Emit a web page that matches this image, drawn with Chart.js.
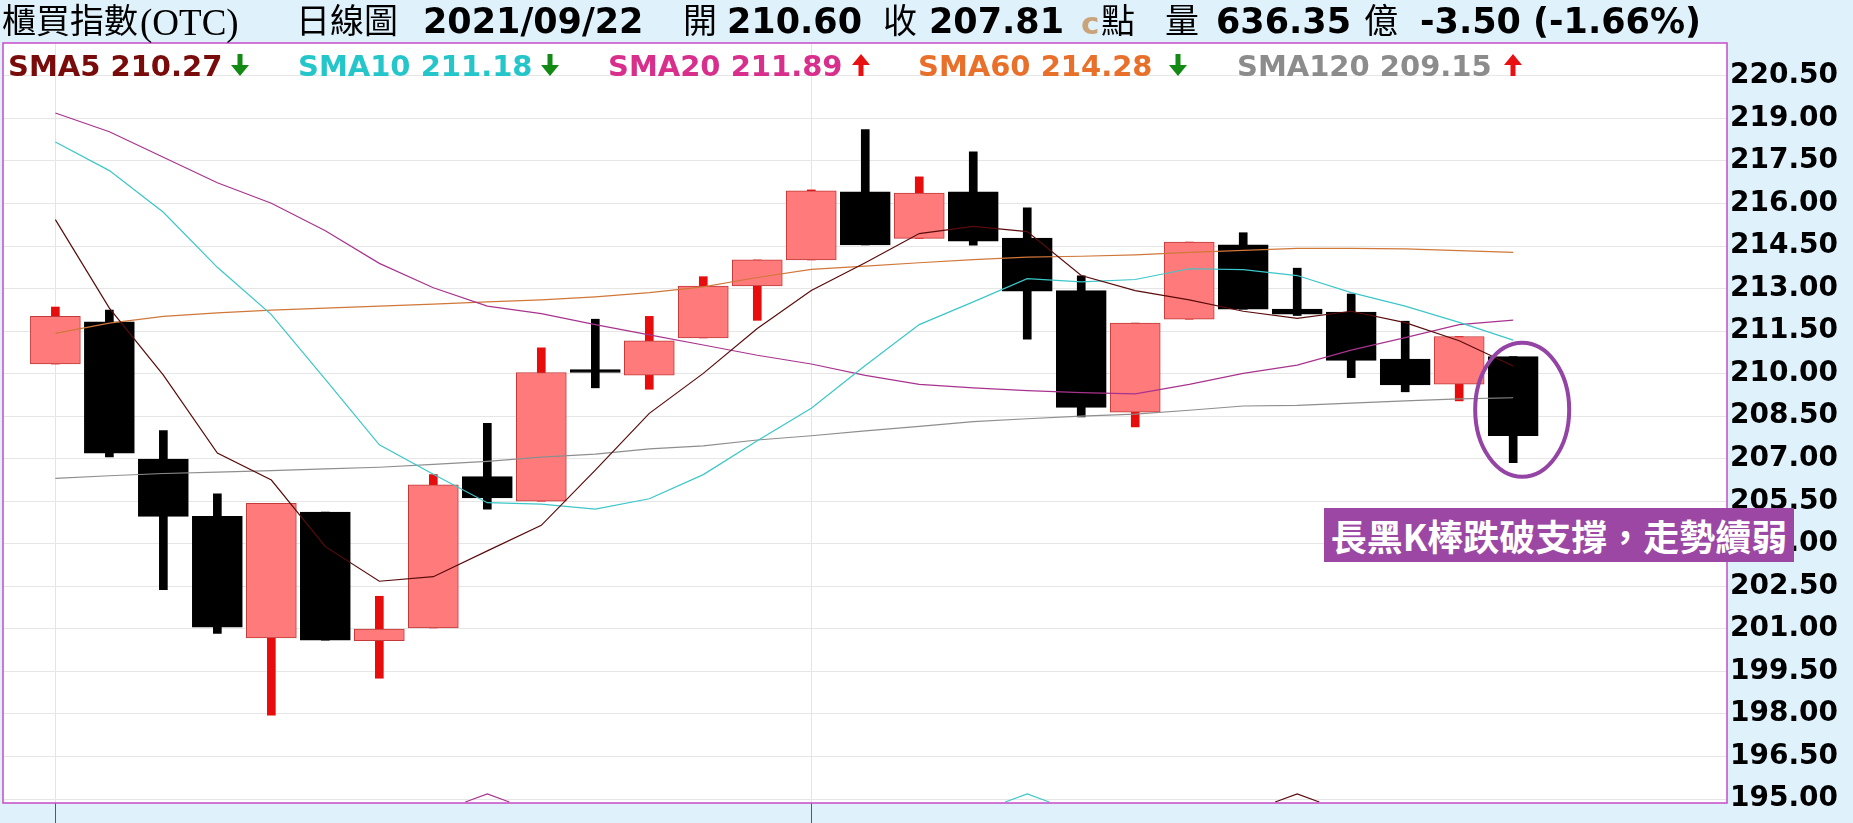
<!DOCTYPE html>
<html>
<head>
<meta charset="utf-8">
<script src="https://cdn.jsdelivr.net/npm/chart.js@4.4.1/dist/chart.umd.min.js"></script>
<style>
html,body{margin:0;padding:0;background:#dff1fb;width:1853px;height:823px;overflow:hidden;}
#wrap{position:relative;width:1853px;height:823px;}
#c{position:absolute;left:0;top:0;}
.t{position:absolute;white-space:nowrap;line-height:1;margin:0;padding:0;}
.num{font-family:"DejaVu Sans";font-weight:bold;font-size:35px;color:#000;top:4px;}
.cjk{font-family:"Noto Sans CJK TC";font-size:34px;color:#000;top:2px;}
.ser{font-family:"Liberation Serif";font-size:37px;color:#000;top:4px;}
.sm{font-family:"DejaVu Sans";font-weight:bold;font-size:31px;top:8px;}
.leg{font-family:"DejaVu Sans";font-weight:bold;font-size:29px;top:52px;}
.arr{position:absolute;top:54px;}
#note{position:absolute;left:1324px;top:508px;width:470px;height:54px;background:#9b47a3;color:#fff;
 font-family:"Noto Sans CJK TC";font-weight:bold;font-size:36px;line-height:54px;text-align:center;white-space:nowrap;}
</style>
</head>
<body>
<div id="wrap">
<canvas id="c" width="1853" height="823"></canvas>
<div id="hdr"></div>
<div id="note"></div>
</div>
<script>
// ---- data ----
const title = "櫃買指數";
const titleCode = "(OTC)";
const chartType = "日線圖";
const lastDate = "2021/09/22";
const volume = "636.35";
const noteText = "長黑K棒跌破支撐，走勢續弱";

const dates = ["08/12","08/13","08/16","08/17","08/18","08/19","08/20","08/23","08/24","08/25","08/26","08/27","08/30","08/31",
               "09/01","09/02","09/03","09/06","09/07","09/08","09/09","09/10","09/13","09/14","09/15","09/16","09/17","09/22"];
const opens  = [210.34,211.83,206.99,204.97,200.68,205.12,200.58,201.03,206.37,205.50,210.14,209.95,211.26,213.09,
                214.01,216.41,214.77,216.41,214.78,212.93,208.64,211.92,214.54,212.28,212.17,210.51,209.63,210.60];
const highs  = [212.35,212.24,207.99,205.76,205.43,205.12,202.15,206.44,208.25,210.91,211.92,212.02,213.42,214.01,
                216.48,218.61,216.94,217.82,215.85,213.45,211.78,214.64,214.97,213.72,212.81,211.85,211.31,210.60];
const lows   = [210.34,207.06,202.38,200.84,197.96,200.60,199.26,201.03,205.22,205.50,209.50,209.45,211.26,211.88,
                214.01,214.54,214.77,214.53,211.22,208.47,208.12,211.92,212.27,212.05,209.86,209.36,209.04,206.86];
const closes = [212.02,207.20,204.97,201.06,205.43,200.60,200.99,206.08,205.62,210.04,210.04,211.16,213.09,214.01,
                216.45,214.54,216.37,214.67,212.91,208.81,211.78,214.64,212.27,212.10,210.47,209.60,211.31,207.81];

const sma5   = [215.43,212.31,209.95,207.20,206.25,203.90,202.68,202.84,203.75,204.65,206.60,208.60,210.01,211.59,
                212.93,213.91,214.94,215.19,215.01,213.46,212.93,212.60,212.20,211.95,212.20,211.80,211.16,210.27];
const sma10  = [218.17,217.16,215.69,213.75,212.08,209.80,207.49,206.45,205.45,205.40,205.22,205.59,206.44,207.63,
                208.78,210.29,211.73,212.53,213.35,213.24,213.32,213.70,213.67,213.46,212.86,212.38,211.81,211.18];
const sma20  = [219.19,218.53,217.63,216.73,216.01,215.04,213.89,213.03,212.38,212.12,211.73,211.37,211.01,210.65,
                210.34,209.94,209.62,209.50,209.40,209.33,209.29,209.62,210.01,210.30,210.83,211.27,211.73,211.89];
const sma60  = [211.42,211.78,212.02,212.14,212.24,212.31,212.38,212.45,212.53,212.60,212.71,212.86,213.06,213.39,
                213.68,213.79,213.91,214.02,214.11,214.14,214.19,214.28,214.35,214.42,214.42,214.40,214.34,214.28];
const sma120 = [206.31,206.40,206.48,206.53,206.58,206.64,206.70,206.80,206.91,207.06,207.16,207.35,207.45,207.66,
                207.81,207.98,208.14,208.31,208.41,208.50,208.57,208.71,208.86,208.88,208.96,209.04,209.11,209.15];

const smaNames = ["SMA5","SMA10","SMA20","SMA60","SMA120"];
const yTicks = [195.00,196.50,198.00,199.50,201.00,202.50,204.00,205.50,207.00,208.50,210.00,211.50,
                213.00,214.50,216.00,217.50,219.00,220.50];
const gridIdx = [0, 14];          // vertical separators
const markerIdx = [8, 18, 23];    // small carets at the bottom
const markerSeries = [2, 1, 0];   // which SMA colour each caret uses

// ---- styles ----
const smaSeries = [sma5, sma10, sma20, sma60, sma120];
const lineColors  = ["#5a0b0b","#3cc6c9","#a8338e","#d0773a","#8e8e8e"];
const labelColors = ["#7a0b0b","#25c6ca","#d82f8c","#e8702a","#8c8c8c"];
const legendLeft = [8, 298, 608, 918, 1237];
const arrowLeft  = [230, 540, 851, 1168, 1503];
const UP_BODY = "#ff7b7b", UP_EDGE = "#c23a3a", UP_WICK = "#e80d0d", DN = "#000000";

// ---- header / legend as DOM text ----
const hdr = document.getElementById('hdr');
function addText(cls, left, text, color){
  const s = document.createElement('span');
  s.className = 't ' + cls;
  s.style.left = left + 'px';
  if (color) s.style.color = color;
  s.textContent = text;
  hdr.appendChild(s);
  return s;
}
function addArrow(left, up){
  const col = up ? "#e81010" : "#138a13";
  const path = up ? "M10 0 L19 11 L12.5 11 L12.5 22 L7.5 22 L7.5 11 L1 11 Z"
                  : "M10 22 L19 11 L12.5 11 L12.5 0 L7.5 0 L7.5 11 L1 11 Z";
  const d = document.createElement('div');
  d.className = 'arr';
  d.style.left = left + 'px';
  d.innerHTML = '<svg width="20" height="22" viewBox="0 0 20 22"><path d="' + path + '" fill="' + col + '"/></svg>';
  hdr.appendChild(d);
}
const n = closes.length;
const lastClose = closes[n-1], prevClose = closes[n-2];
const chg = lastClose - prevClose;
const pct = chg / prevClose * 100;
addText('cjk', 2, title);
addText('ser', 140, titleCode);
addText('cjk', 296, chartType);
addText('num', 423, lastDate);
addText('cjk', 683, "開");
addText('num', 727, opens[n-1].toFixed(2));
addText('cjk', 883, "收");
addText('num', 929, lastClose.toFixed(2));
addText('sm', 1081, "c", "#c9a47a");
addText('cjk', 1101, "點");
addText('cjk', 1165, "量");
addText('num', 1216, volume);
addText('cjk', 1364, "億");
addText('num', 1420, chg.toFixed(2) + " (" + pct.toFixed(2) + "%)");

smaSeries.forEach((arr, k) => {
  const last = arr[arr.length-1], prev = arr[arr.length-2];
  addText('leg', legendLeft[k], smaNames[k] + " " + last.toFixed(2), labelColors[k]);
  addArrow(arrowLeft[k], last >= prev);
});
document.getElementById('note').textContent = noteText;

// ---- chart ----
const isUp = closes.map((c,i) => c >= opens[i]);
const lineSets = smaSeries.map((arr,k) => ({
  type: 'line',
  label: smaNames[k],
  data: arr.map((v,i) => ({x: i, y: v})),
  borderColor: lineColors[k],
  borderWidth: 1.2,
  pointRadius: 0,
  tension: 0,
  order: k
}));
const bodySet = {
  type: 'bar',
  label: 'body',
  data: opens.map((o,i) => ({x: i, y: [o, closes[i]]})),
  backgroundColor: isUp.map(u => u ? UP_BODY : DN),
  borderColor: isUp.map(u => u ? UP_EDGE : DN),
  borderWidth: 1,
  borderSkipped: false,
  barThickness: 50,
  grouped: false,
  order: 10
};
const wickSet = {
  type: 'bar',
  label: 'wick',
  data: lows.map((l,i) => ({x: i, y: [l, highs[i]]})),
  backgroundColor: isUp.map(u => u ? UP_WICK : DN),
  borderWidth: 0,
  barThickness: 8,
  grouped: false,
  order: 11
};

const decor = {
  id: 'decor',
  beforeDraw(chart){
    const {ctx, chartArea: a} = chart;
    ctx.save();
    ctx.fillStyle = '#ffffff';
    ctx.fillRect(a.left, a.top, a.right - a.left, a.bottom - a.top);
    ctx.restore();
  },
  afterDatasetsDraw(chart){
    const {ctx, chartArea: a, scales: {x, y}} = chart;
    ctx.save();
    markerIdx.forEach((idx, k) => {
      const px = x.getPixelForValue(idx);
      const by = a.bottom - 1;
      ctx.strokeStyle = lineColors[markerSeries[k]];
      ctx.lineWidth = 1.3;
      ctx.beginPath();
      ctx.moveTo(px - 22, by);
      ctx.lineTo(px, by - 8);
      ctx.lineTo(px + 22, by);
      ctx.stroke();
    });
    const li = n - 1;
    const cx = x.getPixelForValue(li) + 9;
    const cy = y.getPixelForValue((highs[li] + lows[li]) / 2);
    ctx.strokeStyle = '#9444a4';
    ctx.lineWidth = 4;
    ctx.beginPath();
    ctx.ellipse(cx, cy, 47, 67, 0, 0, Math.PI * 2);
    ctx.stroke();
    ctx.restore();
  },
  afterDraw(chart){
    const {ctx, chartArea: a} = chart;
    ctx.save();
    ctx.strokeStyle = '#c64bc9';
    ctx.lineWidth = 1.5;
    ctx.strokeRect(a.left, a.top, a.right - a.left, a.bottom - a.top);
    ctx.restore();
  }
};

new Chart(document.getElementById('c'), {
  data: { datasets: [...lineSets, bodySet, wickSet] },
  options: {
    responsive: false,
    devicePixelRatio: 1,
    animation: false,
    layout: { padding: { top: 43, left: 3, right: 0, bottom: 0 } },
    plugins: { legend: { display: false }, tooltip: { enabled: false } },
    scales: {
      x: {
        type: 'linear',
        offset: false,
        min: -0.97,
        max: 30.96,
        afterBuildTicks: s => { s.ticks = gridIdx.map(v => ({value: v})); },
        afterFit: s => { s.height = 20; },
        ticks: { display: false },
        grid: { offset: false, color: '#e4e4e4', tickColor: '#1d6e8e', tickLength: 20, drawTicks: true, lineWidth: 1 },
        border: { display: false }
      },
      y: {
        position: 'right',
        min: 194.86,
        max: 221.66,
        afterBuildTicks: s => { s.ticks = yTicks.map(v => ({value: v})); },
        afterFit: s => { s.width = 126; },
        ticks: {
          callback: v => Number(v).toFixed(2),
          color: '#000',
          font: { family: 'DejaVu Sans', weight: 'bold', size: 28 },
          padding: 3
        },
        grid: { color: '#e6e6e6', drawTicks: false, lineWidth: 1 },
        border: { display: false }
      }
    }
  },
  plugins: [decor]
});
</script>
</body>
</html>
